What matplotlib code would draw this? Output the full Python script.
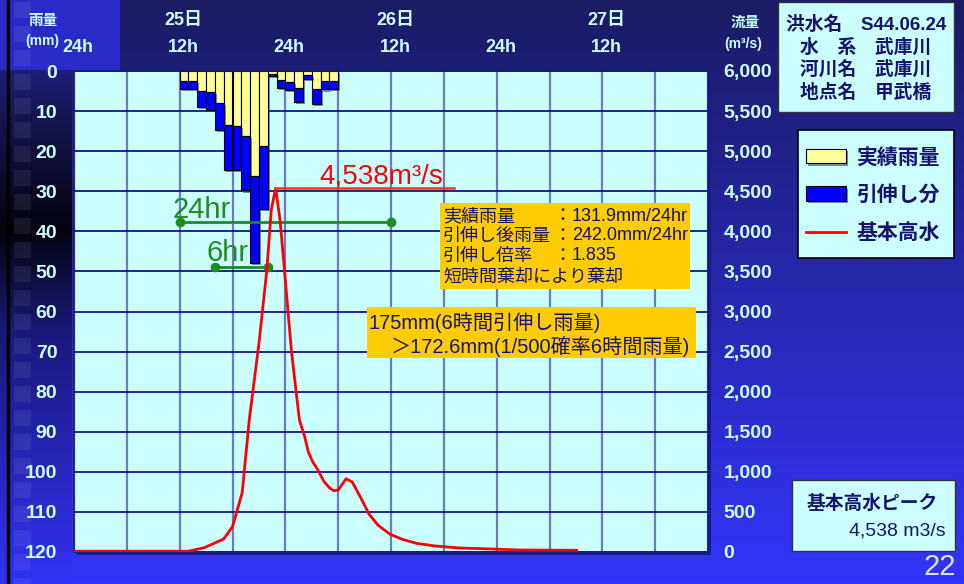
import numpy as np
import matplotlib as mpl
import matplotlib.pyplot as plt
from matplotlib.patches import Rectangle
from matplotlib.transforms import ScaledTranslation
import matplotlib.patheffects as pe

mpl.rcParams['font.family'] = ['Noto Sans CJK JP', 'DejaVu Sans']

W, H = 964, 584
CJK = ['Noto Sans CJK JP', 'DejaVu Sans']
LAT = ['Liberation Sans', 'Noto Sans CJK JP', 'DejaVu Sans']
PALE = '#ccffff'
NAVY = '#14146e'
GREEN = '#1e8c1e'

# hourly rainfall (mm), bars start at hour 12 (25日 12h)
rain_hours = list(range(12, 30))
rain_actual = [2.5, 2.5, 5.0, 5.2, 8.0, 13.4, 13.7, 16.2, 26.2, 18.7,
               0.7, 2.2, 2.7, 4.2, 0.9, 4.4, 2.5, 2.5]
rain_extended = [4.4, 4.4, 9.0, 9.8, 14.7, 24.7, 24.8, 29.8, 47.9, 34.4,
                 1.3, 4.2, 4.8, 7.7, 1.9, 8.2, 4.6, 4.4]

# basic flood hydrograph (m3/s)
flow_hours = [0, 13, 14.8, 17.0, 18.0, 19.1, 19.9, 21.0, 21.9, 22.4, 22.9, 23.4,
              23.9, 24.7, 25.6, 26.2, 26.6, 27.1, 27.7, 28.4, 29.0, 29.5, 30.0,
              30.4, 30.9, 31.6, 32.6, 33.5, 34.5, 35.9, 37.3, 38.9, 41.0, 43.8,
              46.2, 50.7, 57.1]
flow = [10, 10, 54, 162, 316, 740, 1646, 2600, 3517, 4265, 4538, 4140,
        3517, 2500, 1646, 1438, 1251, 1126, 1023, 877, 802, 764, 773,
        835, 914, 873, 670, 474, 337, 221, 158, 108, 75, 50,
        42, 25, 21]
peak = 4538

hour_ticks = list(range(0, 73, 6))
hour_labels = ['24h', '', '12h', '', '24h', '', '12h', '', '24h', '', '12h', '', '']
day_hours = [12, 36, 60]
day_labels = ['25日', '26日', '27日']
rain_ticks = list(range(0, 121, 10))
flow_ticks = list(range(0, 6001, 500))


def fx(x):
    return x / W


def fy(y):
    return 1 - y / H


fig = plt.figure(figsize=(W / 100, H / 100), dpi=100)

# background
bg = fig.add_axes([0, 0, 1, 1])
bg.set_zorder(-5)
bg.set_axis_off()
t = np.linspace(0, 1, H)[:, None]
top_c = np.array([27, 27, 100]) / 255
bot_c = np.array([52, 52, 250]) / 255
img = np.repeat((top_c + (bot_c - top_c) * t)[:, None, :].reshape(H, 1, 3), W, axis=1)
ys = np.arange(H)
kp_y = [0, 70, 120, 230, 330, 584]
kp_c = np.array([[42, 42, 200], [30, 30, 120], [20, 20, 80], [3, 3, 15],
                 [25, 25, 120], [50, 50, 245]]) / 255
strip = np.stack([np.interp(ys, kp_y, kp_c[:, k]) for k in range(3)], axis=1)
img[:, :72, :] = strip[:, None, :]
img[:70, :120, :] = np.array([42, 42, 200]) / 255
bg.imshow(img, extent=(0, W, H, 0), aspect='auto')
bg.set_xlim(0, W)
bg.set_ylim(H, 0)
for y0 in range(2, H, 24):
    bg.add_patch(Rectangle((14, y0), 17, 16, facecolor='white', alpha=0.07, lw=0))
bg.plot([8, 8], [0, H], color='black', lw=2.5)

# plot shadow
fig.patches.append(Rectangle((fx(77), fy(555)), 634 / W, 481 / H, transform=fig.transFigure,
                             facecolor='#1a1a90', edgecolor='none', zorder=-1))

ax = fig.add_axes([fx(74), fy(552), 634 / W, 481 / H])
ax.set_zorder(1)
ax.set_facecolor(PALE)
ax.set_xlim(0, 72)
ax.set_ylim(120, 0)
ax.set_axisbelow(True)
ax.set_yticks(rain_ticks)
ax.set_yticklabels([str(v) for v in rain_ticks], fontfamily=LAT, fontweight='bold',
                   fontsize=14, color=PALE)
ax.set_xticks(hour_ticks)
ax.set_xticklabels(hour_labels, fontfamily=LAT, fontweight='bold', fontsize=13, color=PALE)
ax.tick_params(axis='y', length=0, pad=12)
ax.tick_params(axis='x', length=0, pad=11, top=True, bottom=False,
               labeltop=True, labelbottom=False)
for lbl in ax.get_xticklabels():
    lbl.set_transform(lbl.get_transform() + ScaledTranslation(0.04, 0, fig.dpi_scale_trans))
ax.grid(axis='y', color='#000080', lw=1.2)
ax.grid(axis='x', color='#6a7cc0', lw=1.6)
for s in ax.spines.values():
    s.set_color('#1a1a80')
    s.set_linewidth(1.2)

for h, d in zip(day_hours, day_labels):
    ax.text(h + 0.45, 1.106, d, transform=ax.get_xaxis_transform(), ha='center', va='center',
            fontsize=13, fontweight='bold', color=PALE, family=LAT)

shadow = [pe.SimplePatchShadow(offset=(1.5, -1.5), shadow_rgbFace='#334455', alpha=0.6), pe.Normal()]
extra = [e - a for e, a in zip(rain_extended, rain_actual)]
b1 = ax.bar(rain_hours, rain_actual, width=1, align='edge', color='#ffff99',
            edgecolor='black', lw=0.8, zorder=2, label='実績雨量')
b2 = ax.bar(rain_hours, extra, bottom=rain_actual, width=1, align='edge', color='#0000ff',
            edgecolor='black', lw=0.8, zorder=2, label='引伸し分')
for r in list(b1) + list(b2):
    r.set_path_effects(shadow)

# 24hr / 6hr markers
ax.plot([12, 36], [37.6, 37.6], color=GREEN, lw=2, marker='o', ms=6, zorder=4)
ax.text(11.2, 36.6, '24hr', color=GREEN, fontsize=21, family=LAT, va='baseline', zorder=4)
ax.plot([16, 22], [48.9, 48.9], color=GREEN, lw=2, marker='o', ms=6, zorder=4)
ax.text(15.1, 47.4, '6hr', color=GREEN, fontsize=21, family=LAT, va='baseline', zorder=4)

ax2 = ax.twinx()
ax2.set_zorder(2)
ax2.set_ylim(0, 6000)
ax2.set_yticks(flow_ticks)
ax2.set_yticklabels([f'{v:,}' for v in flow_ticks], fontfamily=LAT, fontweight='bold',
                    fontsize=14, color=PALE)
ax2.tick_params(axis='y', length=0, pad=11)
for s in ax2.spines.values():
    s.set_visible(False)
ln, = ax2.plot(flow_hours, flow, color='#ff0000', lw=2, label='基本高水', zorder=5)
ax2.plot([22.9, 43.2], [peak, peak], color='#ff3300', lw=1.8, zorder=5)
ax2.text(27.9, 4600, f'{peak:,}m³/s', color='#ff0000', fontsize=20, family=LAT,
         va='baseline', ha='left')

# axis titles
fig.text(fx(43), fy(20), '雨量', ha='center', va='center', fontsize=10.5,
         fontweight='bold', color=PALE)
fig.text(fx(42), fy(41), '(mm)', ha='center', va='center', fontsize=10,
         fontweight='bold', color=PALE, family=LAT)
fig.text(fx(745), fy(22), '流量', ha='center', va='center', fontsize=10.5,
         fontweight='bold', color=PALE)
fig.text(fx(743), fy(44), '(m³/s)', ha='center', va='center', fontsize=10,
         fontweight='bold', color=PALE, family=LAT)

# legend (frame drawn separately so its size matches the slide)
fig.patches.append(Rectangle((fx(798), fy(258)), 156 / W, 128 / H, transform=fig.transFigure,
                             facecolor=PALE, edgecolor='black', lw=1.2, zorder=1.5))
leg = ax2.legend(handles=[b1, b2, ln], labels=['実績雨量', '引伸し分', '基本高水'],
                 loc='upper left', bbox_to_anchor=(fx(798), fy(138)),
                 bbox_transform=fig.transFigure, borderaxespad=0, frameon=False,
                 prop={'family': CJK, 'weight': 'bold', 'size': 15},
                 handlelength=1.9, handleheight=0.72, handletextpad=0.5,
                 labelspacing=0.81, borderpad=0.4)
for txt in leg.get_texts():
    txt.set_color(NAVY)


def box(x0, y0, x1, y1, color, edge='none'):
    fig.patches.append(Rectangle((fx(x0), fy(y1)), (x1 - x0) / W, (y1 - y0) / H,
                                 transform=fig.transFigure, facecolor=color,
                                 edgecolor=edge, lw=1, zorder=5))


# info box
box(778, 2, 954, 112, PALE, '#333333')
info_lines = ['洪水名　S44.06.24', '水　系　武庫川', '河川名　武庫川', '地点名　甲武橋']
for i, s in enumerate(info_lines):
    fig.text(fx(866), fy(25 + 22.5 * i), s, ha='center', va='center', fontsize=13.5,
             fontweight='bold', color=NAVY, family=LAT, zorder=6)

# rainfall note box
box(440, 203, 690, 289, '#ffcc00')
note_rows = [('実績雨量', '131.9mm/24hr'), ('引伸し後雨量', '242.0mm/24hr'),
             ('引伸し倍率', '1.835')]
row_y = [216.5, 235.5, 256, 276.5]
for (lab, val), y in zip(note_rows, row_y):
    fig.text(fx(443), fy(y), lab, ha='left', va='center', fontsize=13, color=NAVY, zorder=6)
    fig.text(fx(562), fy(y), '：', ha='center', va='center', fontsize=13, color=NAVY, zorder=6)
    fig.text(fx(572), fy(y), val, ha='left', va='center', fontsize=13, color=NAVY,
             family=LAT, zorder=6)
fig.text(fx(443), fy(row_y[3]), '短時間棄却により棄却', ha='left', va='center', fontsize=13,
         color=NAVY, zorder=6)

box(367, 307, 696, 358, '#ffcc00')
fig.text(fx(368), fy(322.5), '175mm(6時間引伸し雨量)', ha='left', va='center',
         fontsize=14.5, color=NAVY, family=LAT, zorder=6)
fig.text(fx(391), fy(346.5), '＞172.6mm(1/500確率6時間雨量)', ha='left', va='center',
         fontsize=14.5, color=NAVY, family=LAT, zorder=6)

# peak box
box(792, 480, 955, 551, PALE, '#333333')
fig.text(fx(872), fy(503), '基本高水ピーク', ha='center', va='center', fontsize=13.5,
         fontweight='bold', color=NAVY, zorder=6)
fig.text(fx(946), fy(531), f'{peak:,} m3/s', ha='right', va='center', fontsize=14,
         color=NAVY, family=LAT, zorder=6)

fig.text(fx(940), fy(567), '22', ha='center', va='center', fontsize=21,
         color='#dde6ff', family=LAT)

fig.savefig('out.png', dpi=100)
